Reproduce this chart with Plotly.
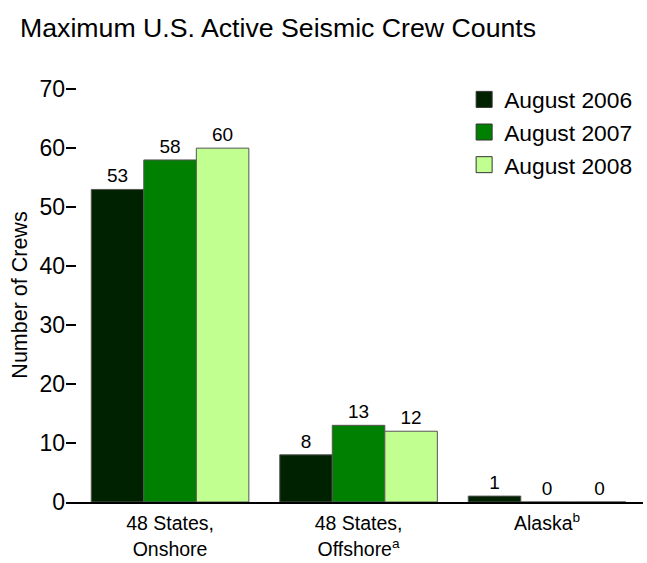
import plotly.graph_objects as go

categories = ["48 States,<br>Onshore", "48 States,<br>Offshore<sup>a</sup>", "Alaska<sup>b</sup>"]
series_names = ["August 2006", "August 2007", "August 2008"]
values_2006 = [53, 8, 1]
values_2007 = [58, 13, 0]
values_2008 = [60, 12, 0]
y_ticks = [0, 10, 20, 30, 40, 50, 60, 70]

colors = ["#002200", "#008000", "#c0ff90"]
all_values = [values_2006, values_2007, values_2008]
x_idx = list(range(len(categories)))

FONT = "Liberation Sans, Arial, sans-serif"

fig = go.Figure()
for name, vals, col in zip(series_names, all_values, colors):
    fig.add_trace(go.Bar(
        x=x_idx, y=vals, name=name, marker=dict(color=col, line=dict(color="#555555", width=1)),
        text=[str(v) for v in vals], textposition="outside",
        textfont=dict(size=19, color="black", family=FONT),
        cliponaxis=False, showlegend=False,
    ))
for i, (name, col) in enumerate(zip(series_names, colors)):
    fig.add_trace(go.Scatter(
        x=[None], y=[None], mode="markers", name=name,
        marker=dict(symbol="square", size=16, color=col, line=dict(color="#333333", width=1)),
    ))

fig.update_layout(
    width=647, height=563,
    margin=dict(l=66, r=4, t=88, b=61),
    paper_bgcolor="white", plot_bgcolor="white",
    font=dict(family=FONT, color="black"),
    barmode="group", bargap=0.164, bargroupgap=0,
    title=dict(text="Maximum U.S. Active Seismic Crew Counts", x=20 / 647, xanchor="left", xref="container",
               y=1 - 28 / 563, yanchor="middle", yref="container", font=dict(size=26.7)),
    legend=dict(x=0.690, y=1.024, xanchor="left", yanchor="top", font=dict(size=22.8),
                bgcolor="rgba(0,0,0,0)", itemsizing="trace"),
    xaxis=dict(range=[-0.552, 2.509], tickmode="array", tickvals=x_idx, ticktext=categories,
               tickfont=dict(size=19.5), showline=True, linecolor="black", linewidth=2, ticks="",
               ticklabelstandoff=3,
               showgrid=False, zeroline=False, fixedrange=True),
    yaxis=dict(range=[0, 70.2], tickmode="array", tickvals=y_ticks, ticks="inside", ticklen=10, tickwidth=2,
               tickcolor="black", tickfont=dict(size=23), showline=False, showgrid=False, zeroline=False,
               title=dict(text="Number of Crews", font=dict(size=21.5), standoff=5)),
)

fig.write_html("out.html", config={"displayModeBar": False},
               post_script="document.body.style.margin='0px';")
